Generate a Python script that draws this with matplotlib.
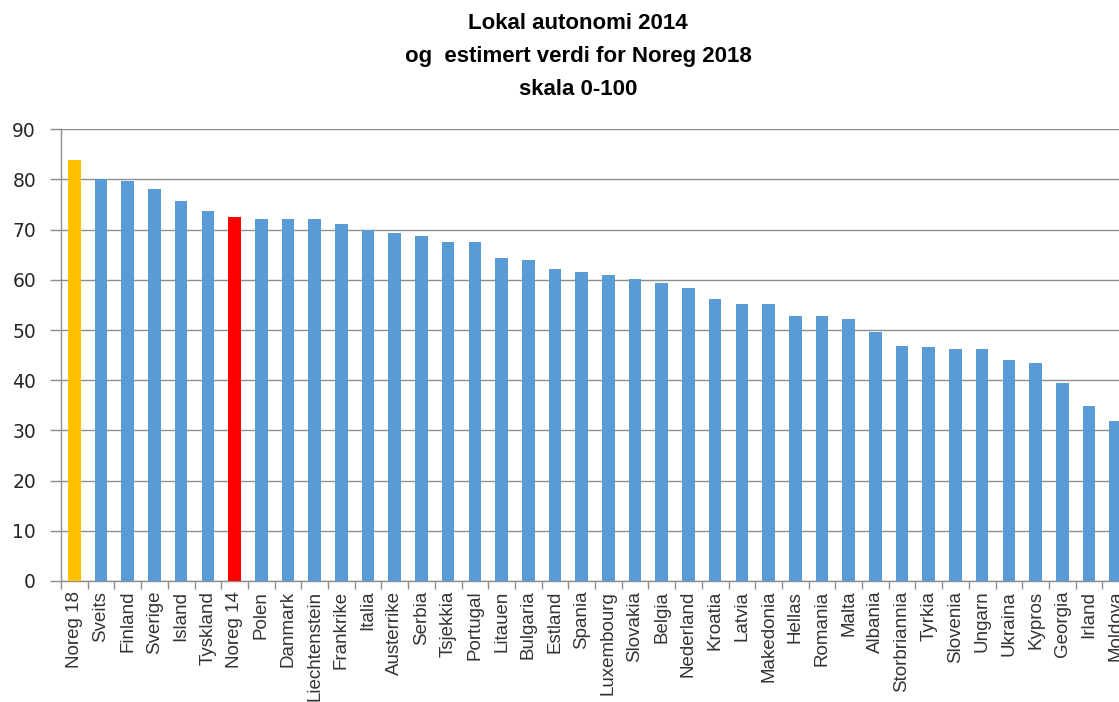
import matplotlib
matplotlib.use('agg')
import matplotlib.pyplot as plt
import numpy as np

# data
countries = ["Noreg 18", "Sveits", "Finland", "Sverige", "Island", "Tyskland", "Noreg 14",
             "Polen", "Danmark", "Liechtenstein", "Frankrike", "Italia", "Austerrike",
             "Serbia", "Tsjekkia", "Portugal", "Litauen", "Bulgaria", "Estland", "Spania",
             "Luxembourg", "Slovakia", "Belgia", "Nederland", "Kroatia", "Latvia",
             "Makedonia", "Hellas", "Romania", "Malta", "Albania", "Storbriannia", "Tyrkia",
             "Slovenia", "Ungarn", "Ukraina", "Kypros", "Georgia", "Irland", "Moldova"]
values = [83.8, 80.1, 79.7, 78.2, 75.8, 73.8, 72.6,
          72.2, 72.2, 72.2, 71.2, 69.9, 69.3,
          68.8, 67.5, 67.5, 64.4, 63.9, 62.2, 61.5,
          61.0, 60.1, 59.3, 58.3, 56.1, 55.2,
          55.2, 52.9, 52.9, 52.3, 49.6, 46.9, 46.7,
          46.3, 46.3, 44.0, 43.4, 39.4, 34.8, 31.9]
highlight = {"Noreg 18": "#FFC000", "Noreg 14": "#FF0000"}

title_lines = ["Lokal autonomi 2014", "og  estimert verdi for Noreg 2018", "skala 0-100"]

W, H = 1119, 702
fig = plt.figure(figsize=(W / 100, H / 100), dpi=100)
# axes runs past the right edge like in the cropped original
ax = fig.add_axes([61 / W, (H - 581) / H, 1068 / W, (581 - 129.3) / H])

colors = [highlight.get(c, "#5B9BD5") for c in countries]
x = np.arange(len(countries))
ax.bar(x, values, width=0.47, color=colors, zorder=3)

ax.set_xlim(-0.5, len(countries) - 0.5)
ax.set_ylim(0, 90)
ax.set_yticks(np.arange(0, 91, 10))
ax.yaxis.grid(True, color="#8e8e8e", linewidth=1.0, zorder=0)
ax.set_axisbelow(True)

for side in ["top", "right"]:
    ax.spines[side].set_visible(False)
for side in ["left", "bottom"]:
    ax.spines[side].set_color("#8e8e8e")
    ax.spines[side].set_linewidth(1.0)

ax.set_xticks(x)
ax.set_xticklabels(countries, rotation=90, fontsize=13.5, family="Liberation Sans",
                   color="#333333")
ax.set_xticks(np.arange(-0.5, len(countries), 1), minor=True)
ax.tick_params(axis="x", which="major", length=0, pad=7)
ax.tick_params(axis="x", which="minor", length=6, color="#8e8e8e", width=1)
ax.tick_params(axis="y", length=8, color="#8e8e8e", width=1, pad=10, labelsize=13.5,
               labelcolor="#262626")
for lab in ax.get_yticklabels():
    lab.set_family("DejaVu Sans")

for i, line in enumerate(title_lines):
    fig.text(578 / W, 1 - (29 + 33 * i) / H, line, ha="center", va="baseline",
             fontsize=16, fontweight="bold", family="Liberation Sans", color="black")

plt.savefig("out.png", dpi=100)
